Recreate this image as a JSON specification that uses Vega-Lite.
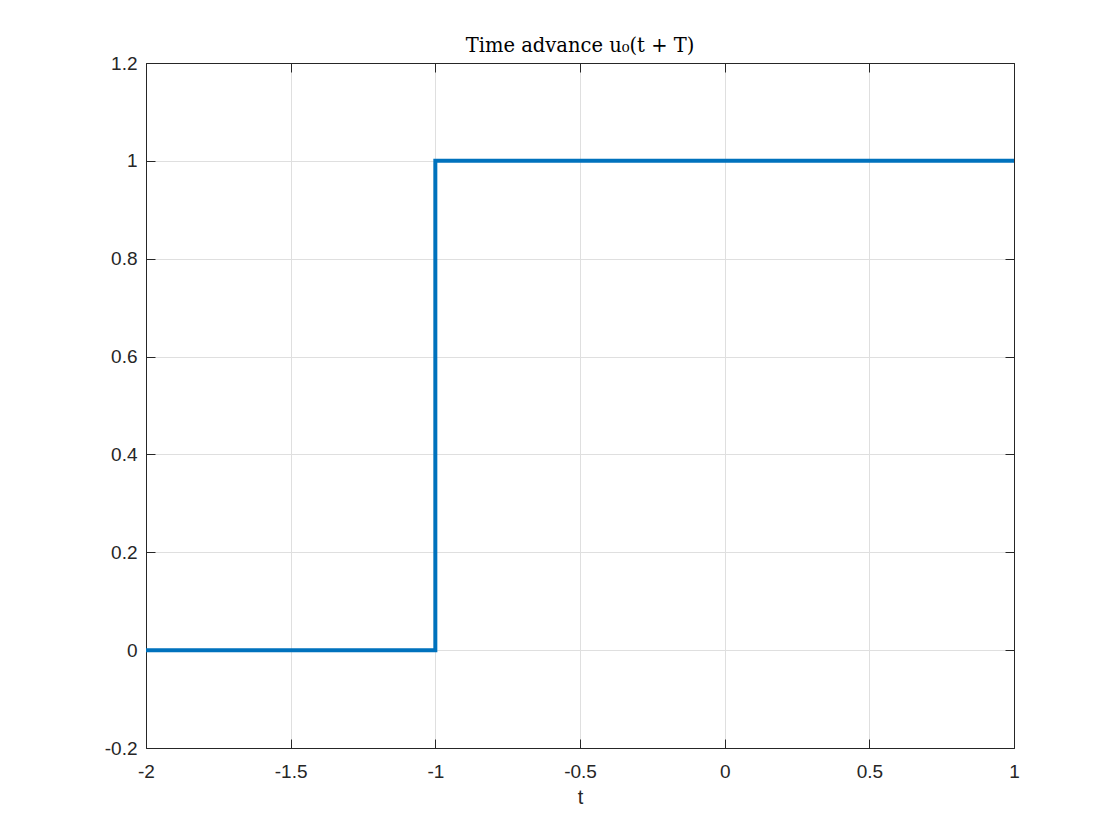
{
  "$schema": "https://vega.github.io/schema/vega-lite/v6.json",
  "width": 868,
  "height": 685,
  "autosize": "none",
  "padding": {"left": 146, "top": 63, "right": 106, "bottom": 92},
  "background": "white",
  "config": {
    "view": {"stroke": "#262626", "strokeWidth": 1},
    "axis": {
      "labelFont": "Liberation Sans",
      "labelFontSize": 19,
      "labelColor": "#262626",
      "titleFont": "Liberation Sans",
      "titleFontSize": 20,
      "titleFontWeight": "normal",
      "titleColor": "#262626",
      "domainColor": "#262626",
      "tickColor": "#262626",
      "gridColor": "#dfdfdf",
      "gridWidth": 1
    }
  },
  "title": {
    "text": "Time advance u\u2080(t + T)",
    "font": "DejaVu Serif",
    "fontSize": 19.5,
    "fontWeight": "normal",
    "color": "#000000",
    "offset": -2
  },
  "data": {
    "values": [
      {"t": -2, "u": 0},
      {"t": -1, "u": 0},
      {"t": -1, "u": 1},
      {"t": 1, "u": 1}
    ]
  },
  "resolve": {"axis": {"x": "independent", "y": "independent"}},
  "layer": [
    {
      "mark": {"type": "line", "color": "#0072BD", "strokeWidth": 4, "clip": true},
      "encoding": {
        "x": {
          "field": "t", "type": "quantitative",
          "scale": {"domain": [-2, 1], "nice": false, "zero": false},
          "axis": {
            "title": "t", "titlePadding": 6,
            "values": [-2, -1.5, -1, -0.5, 0, 0.5, 1],
            "labelExpr": "'' + datum.value",
            "tickSize": -9, "labelPadding": 23,
            "labelFlush": false
          }
        },
        "y": {
          "field": "u", "type": "quantitative",
          "scale": {"domain": [-0.2, 1.2], "nice": false, "zero": false},
          "axis": {
            "title": null,
            "values": [-0.2, 0, 0.2, 0.4, 0.6, 0.8, 1, 1.2],
            "labelExpr": "'' + datum.value",
            "tickSize": -9, "labelPadding": 18,
            "labelFlush": false
          }
        }
      }
    },
    {
      "mark": {"type": "line", "strokeOpacity": 0, "clip": true},
      "encoding": {
        "x": {
          "field": "t", "type": "quantitative",
          "scale": {"domain": [-2, 1], "nice": false, "zero": false},
          "axis": {
            "orient": "top", "title": null, "labels": false, "grid": false,
            "values": [-2, -1.5, -1, -0.5, 0, 0.5, 1],
            "tickSize": -9
          }
        },
        "y": {
          "field": "u", "type": "quantitative",
          "scale": {"domain": [-0.2, 1.2], "nice": false, "zero": false},
          "axis": {
            "orient": "right", "title": null, "labels": false, "grid": false,
            "values": [-0.2, 0, 0.2, 0.4, 0.6, 0.8, 1, 1.2],
            "tickSize": -9
          }
        }
      }
    }
  ]
}
